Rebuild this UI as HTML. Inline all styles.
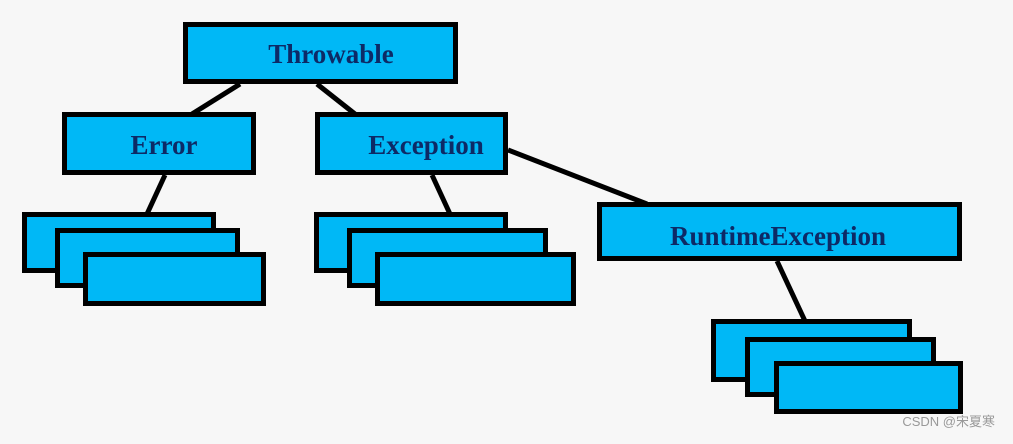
<!DOCTYPE html>
<html><head><style>body{margin:0;background:#f7f7f7}</style></head><body>
<svg width="1013" height="439" xmlns="http://www.w3.org/2000/svg">
<rect width="1013" height="439" fill="#f7f7f7"/>
<g stroke="#000" stroke-width="5">
<line x1="240" y1="84" x2="192" y2="114"/>
<line x1="317" y1="84" x2="355" y2="114"/>
<line x1="165" y1="175" x2="147" y2="214"/>
<line x1="432" y1="175" x2="450" y2="214"/>
<line x1="508" y1="150" x2="647" y2="204"/>
<line x1="777" y1="261" x2="805" y2="321"/>
</g>
<g fill="#00b8f6" stroke="#000" stroke-width="5">
<rect x="185.5" y="24.5" width="270" height="57"/>
<rect x="64.5" y="114.5" width="189" height="58"/>
<rect x="317.5" y="114.5" width="188" height="58"/>
<rect x="599.5" y="204.5" width="360" height="54"/>
<rect x="24.5" y="214.5" width="189" height="56"/>
<rect x="57.5" y="230.5" width="180" height="55"/>
<rect x="85.5" y="254.5" width="178" height="49"/>
<rect x="316.5" y="214.5" width="189" height="56"/>
<rect x="349.5" y="230.5" width="196" height="55"/>
<rect x="377.5" y="254.5" width="196" height="49"/>
<rect x="713.5" y="321.5" width="196" height="58"/>
<rect x="747.5" y="339.5" width="186" height="55"/>
<rect x="776.5" y="363.5" width="184" height="48"/>
</g>
<g font-family="Liberation Serif, serif" font-weight="bold" font-size="27" fill="#0d2a66" text-anchor="middle">
<text x="331" y="63">Throwable</text>
<text x="164" y="154">Error</text>
<text x="426" y="154">Exception</text>
<text x="778" y="245">RuntimeException</text>
</g>
<text x="995" y="426" font-family="Liberation Sans, 'Noto Sans CJK SC', sans-serif" font-size="13" fill="#999" text-anchor="end">CSDN @宋夏寒</text>
</svg>
</body></html>
